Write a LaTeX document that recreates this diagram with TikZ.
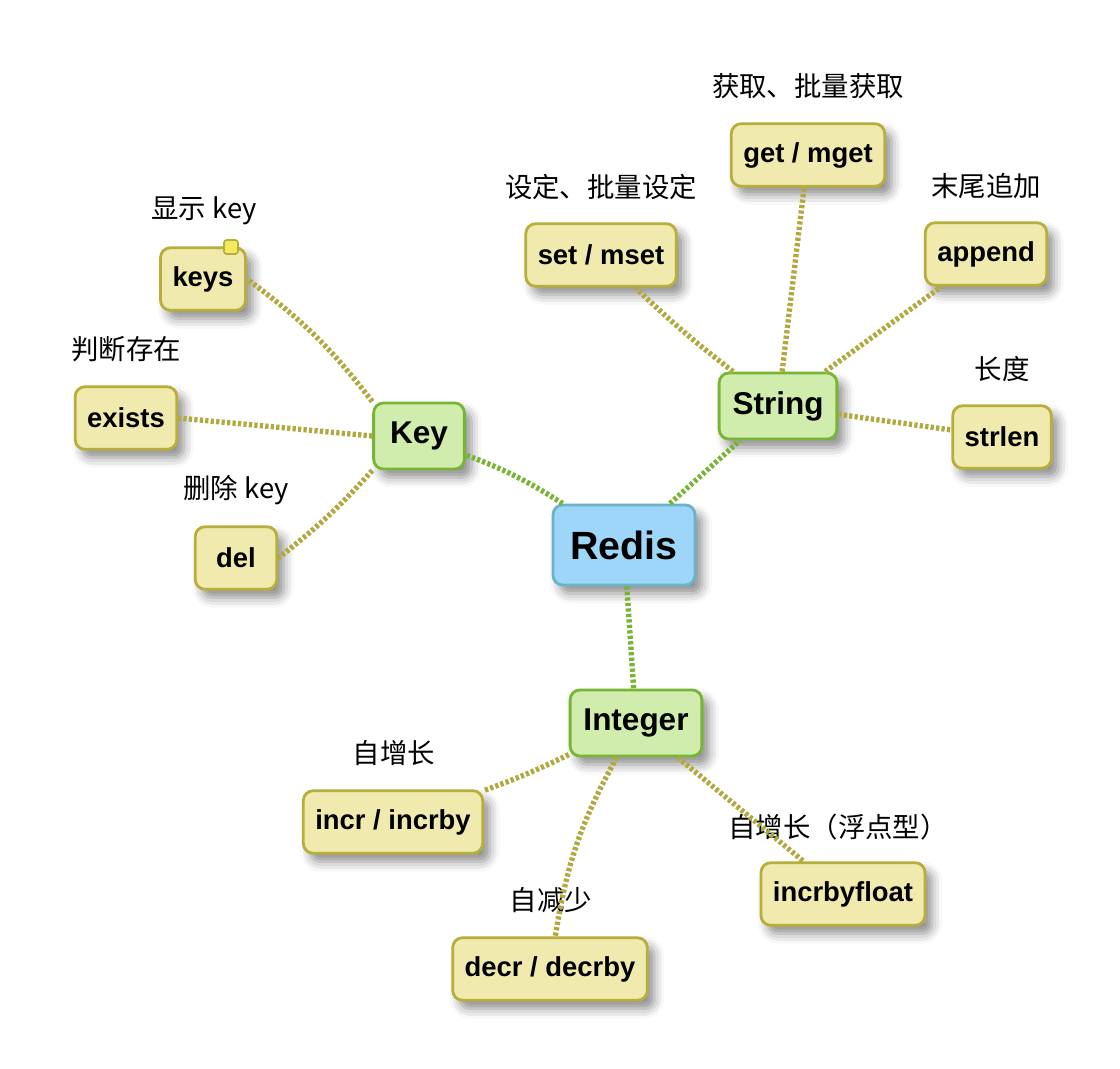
\documentclass[tikz,border=0pt]{standalone}
\usepackage{fontspec}
\setmainfont{Liberation Sans}
\newfontfamily\cjk{Noto Sans CJK SC}
\usepackage{xcolor}
\usepackage{tikz}
\usetikzlibrary{shadows.blur}

\definecolor{leaffill}{HTML}{F0EAAE}
\definecolor{leafdraw}{HTML}{B7AE3B}
\definecolor{branchfill}{HTML}{D0EDAD}
\definecolor{branchdraw}{HTML}{79B535}
\definecolor{rootfill}{HTML}{9ED6FA}
\definecolor{rootdraw}{HTML}{6BB3C7}
\definecolor{notefill}{HTML}{F4EA5E}
\definecolor{leafline}{HTML}{B0AA3E}

\begin{document}
\begin{tikzpicture}[x=0.025cm,y=-0.025cm,
    box/.style={rectangle,rounded corners=7pt,line width=2pt,
      blur shadow={shadow xshift=5pt,shadow yshift=-6pt,shadow blur radius=7pt,shadow opacity=45}},
    root/.style={box,fill=rootfill,draw=rootdraw,minimum width=101pt,minimum height=57pt,
      font=\bfseries\fontsize{28}{32}\selectfont},
    branch/.style={box,fill=branchfill,draw=branchdraw,inner xsep=9.5pt,minimum width=64.5pt,
      minimum height=47pt,font=\bfseries\fontsize{22.4}{26}\selectfont},
    leaf/.style={box,fill=leaffill,draw=leafdraw,inner xsep=8.5pt,minimum width=58pt,
      minimum height=44.5pt,font=\bfseries\fontsize{19.5}{23}\selectfont},
    tip/.style={font=\cjk\fontsize{19.5}{23}\selectfont,inner sep=0pt},
    rootlink/.style={draw=branchdraw,line width=3.8pt,dash pattern=on 2.3pt off 1.6pt},
    leaflink/.style={draw=leafline,line width=3.8pt,dash pattern=on 2.3pt off 1.6pt}]
    \useasboundingbox (0,0) rectangle (1120,1068);

    % labels
    \node[tip,name=tkeys] at (204,211) {显示 key};
    \node[tip,name=texists] at (126,349) {判断存在};
    \node[tip,name=tdel] at (236,490) {删除 key};
    \node[tip,name=tset] at (601,187) {设定、批量设定};
    \node[tip,name=tget] at (808,86) {获取、批量获取};
    \node[tip,name=tappend] at (986,186) {末尾追加};
    \node[tip,name=tstrlen] at (1002,369) {长度};
    \node[tip,name=tincr] at (394,753) {自增长};
    \node[tip,name=tdecr] at (551,900) {自减少};
    \node[tip,name=tfloat] at (838,827) {自增长（浮点型）};

    \node[root,name=redis] at (624,545) {Redis};

    \node[branch,name=key] at (419,436) {Key};
    \node[branch,name=string] at (778,406) {String};
    \node[branch,name=integer] at (636,723) {Integer};

    \node[leaf,name=keys] at (203,279) {keys};
    \node[leaf,name=exists] at (126,418) {exists};
    \node[leaf,name=del] at (236,558) {del};

    \node[leaf,name=set] at (601,255) {set / mset};
    \node[leaf,name=get] at (808,155) {get / mget};
    \node[leaf,name=append] at (986,254) {append};
    \node[leaf,name=strlen] at (1002,437) {strlen};

    \node[leaf,name=incr] at (393,822) {incr / incrby};
    \node[leaf,name=decr] at (550,969) {decr / decrby};
    \node[leaf,name=float] at (843,894) {incrbyfloat};

    \node[rectangle,rounded corners=2pt,fill=notefill,draw=leafdraw,line width=1.2pt,
      minimum size=10pt,inner sep=0pt,name=keysnote] at (231,247) {};

    \draw[rootlink] (redis) to[bend right=6] (key);
    \draw[rootlink] (redis) -- (string);
    \draw[rootlink] (redis) -- (integer);

    \draw[leaflink] (key.north west) to[bend right=8] (keys.east);
    \draw[leaflink] (key.west) -- (exists.east);
    \draw[leaflink] (key.south west) to[bend left=5] (del.east);
    \draw[leaflink] (string) to[bend left=3] (set);
    \draw[leaflink] (string) -- (get);
    \draw[leaflink] (string) -- (append);
    \draw[leaflink] (string) -- (strlen);
    \draw[leaflink] (integer) to[bend left=3] (incr);
    \draw[leaflink] (integer) to[bend right=10] (decr);
    \draw[leaflink] (integer) -- (float);
\end{tikzpicture}
\end{document}
